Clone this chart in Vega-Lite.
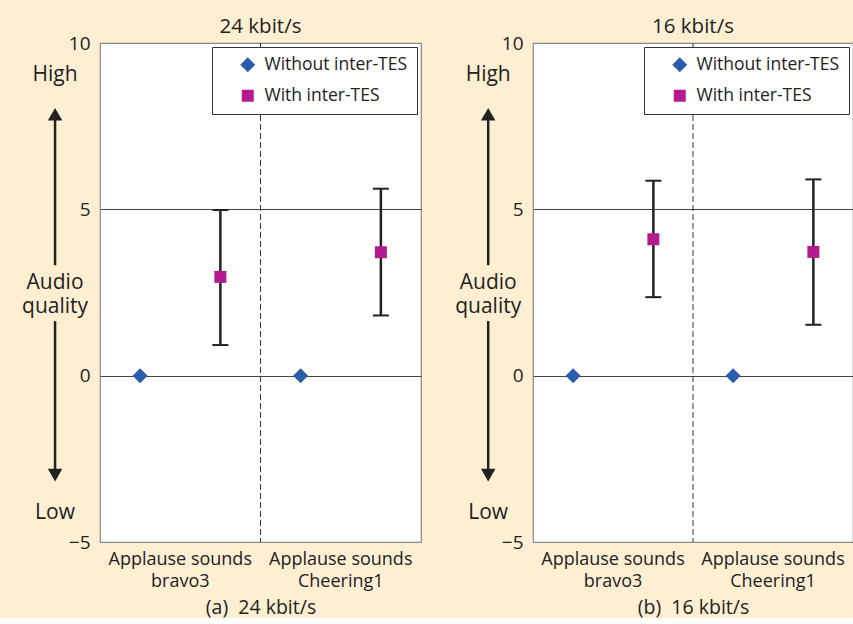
{
  "$schema": "https://vega.github.io/schema/vega-lite/v6.json",
  "background": "#FEEFD3",
  "padding": {"top": 15, "left": 21, "right": 0, "bottom": 0},
  "config": {
    "font": "Open Sans",
    "view": {"stroke": "#888", "fill": "white", "strokeWidth": 1.2},
    "axis": {"labelColor": "#222", "titleColor": "#222", "labelFont": "Open Sans", "titleFont": "Open Sans"},
    "legend": {"labelFont": "Open Sans"},
    "title": {"font": "Open Sans", "fontWeight": "normal", "fontSize": 20.5, "color": "#222", "offset": -3}
  },
  "datasets": {
    "points": [
      {"panel": "a", "sample": "bravo3", "series": "Without inter-TES", "value": 0},
      {"panel": "a", "sample": "Cheering1", "series": "Without inter-TES", "value": 0},
      {"panel": "a", "sample": "bravo3", "series": "With inter-TES", "value": 2.97, "lo": 0.92, "hi": 4.98},
      {"panel": "a", "sample": "Cheering1", "series": "With inter-TES", "value": 3.71, "lo": 1.81, "hi": 5.62},
      {"panel": "b", "sample": "bravo3", "series": "Without inter-TES", "value": 0},
      {"panel": "b", "sample": "Cheering1", "series": "Without inter-TES", "value": 0},
      {"panel": "b", "sample": "bravo3", "series": "With inter-TES", "value": 4.1, "lo": 2.36, "hi": 5.86},
      {"panel": "b", "sample": "Cheering1", "series": "With inter-TES", "value": 3.72, "lo": 1.53, "hi": 5.9}
    ]
  },
  "resolve": {"legend": {"color": "independent", "shape": "independent", "size": "independent"}},
  "spacing": 32,
  "hconcat": [
    {
      "width": 321, "height": 499,
      "title": {"text": "24 kbit/s"},
      "data": {"name": "points"},
      "transform": [{"filter": "datum.panel == 'a'"}],
      "resolve": {"scale": {"x": "independent"}},
      "layer": [
        {
          "layer": [
            {
              "data": {"values": [{}]},
              "mark": {"type": "rule", "strokeDash": [6, 3], "color": "#333", "strokeWidth": 1},
              "encoding": {"x": {"datum": "Cheering1", "type": "nominal", "bandPosition": 0, "scale": {"domain": ["bravo3", "Cheering1"], "paddingInner": 0, "paddingOuter": 0}}}
            },
            {
              "transform": [{"filter": "isValid(datum.lo)"}],
              "mark": {"type": "rule", "color": "#222", "strokeWidth": 2.5},
              "encoding": {
                "x": {"field": "sample", "type": "nominal"},
                "xOffset": {"field": "series", "type": "nominal", "scale": {"domain": ["Without inter-TES", "With inter-TES"], "paddingInner": 0, "paddingOuter": 0}},
                "y": {"field": "lo", "type": "quantitative", "title": null},
                "y2": {"field": "hi"}
              }
            },
            {
              "transform": [{"filter": "isValid(datum.lo)"}],
              "mark": {"type": "tick", "color": "#222", "thickness": 2, "size": 16, "opacity": 1},
              "encoding": {
                "x": {"field": "sample", "type": "nominal"},
                "xOffset": {"field": "series", "type": "nominal"},
                "y": {"field": "lo", "type": "quantitative", "title": null}
              }
            },
            {
              "transform": [{"filter": "isValid(datum.hi)"}],
              "mark": {"type": "tick", "color": "#222", "thickness": 2, "size": 16, "opacity": 1},
              "encoding": {
                "x": {"field": "sample", "type": "nominal"},
                "xOffset": {"field": "series", "type": "nominal"},
                "y": {"field": "hi", "type": "quantitative", "title": null}
              }
            },
            {
              "mark": {"type": "point", "filled": true, "opacity": 1, "strokeWidth": 0},
              "encoding": {
                "x": {"field": "sample", "type": "nominal", "title": "(a)\u00a0 24 kbit/s",
                  "axis": {"labelAngle": 0, "labelAlign": "center", "labelBaseline": "top", "ticks": false, "domain": false, "grid": false, "labelFontSize": 18, "labelPadding": 8, "labelLineHeight": 22, "titleFontSize": 19.5, "titleFontWeight": "normal", "titlePadding": 8,
                    "labelExpr": "datum.value == 'bravo3' ? ['Applause sounds', 'bravo3'] : ['Applause sounds', 'Cheering1']"}},
                "xOffset": {"field": "series", "type": "nominal"},
                "y": {"field": "value", "type": "quantitative", "title": null,
                  "scale": {"domain": [-5, 10], "nice": false, "zero": false},
                  "axis": {"values": [-5, 0, 5, 10], "ticks": false, "domain": false, "labelFontSize": 19, "labelPadding": 10,
                    "gridColor": {"condition": {"test": "datum.value == 0 || datum.value == 5", "value": "#444"}, "value": "#888"}, "gridWidth": 1, "gridOpacity": 1}},
                "color": {"field": "series", "type": "nominal", "scale": {"domain": ["Without inter-TES", "With inter-TES"], "range": ["#2B5DAA", "#B41B8F"]},
                  "legend": {"title": null, "orient": "top-right", "offset": 4, "fillColor": "white", "strokeColor": "#333", "padding": 9, "symbolOffset": 18, "labelOffset": 8, "rowPadding": 12, "labelFontSize": 17.5, "labelColor": "#222"}},
                "shape": {"field": "series", "type": "nominal", "scale": {"domain": ["Without inter-TES", "With inter-TES"], "range": ["diamond", "square"]}},
                "size": {"field": "series", "type": "nominal", "scale": {"domain": ["Without inter-TES", "With inter-TES"], "range": [225, 144]}}
              }
            }
          ]
        },
        {
          "data": {"values": [{}]},
          "encoding": {"x": {"datum": -0.56, "type": "quantitative", "scale": {"domain": [0, 4], "nice": false, "zero": false}, "axis": null}},
          "layer": [
            {"mark": {"type": "rule", "color": "#222", "strokeWidth": 2.5}, "encoding": {"y": {"datum": 7.86, "type": "quantitative"}, "y2": {"datum": 3.32}}},
            {"mark": {"type": "rule", "color": "#222", "strokeWidth": 2.5}, "encoding": {"y": {"datum": 1.64, "type": "quantitative"}, "y2": {"datum": -2.99}}},
            {"mark": {"type": "point", "shape": "triangle-up", "filled": true, "opacity": 1, "color": "#222", "size": 210, "strokeWidth": 0}, "encoding": {"y": {"datum": 7.86, "type": "quantitative"}}},
            {"mark": {"type": "point", "shape": "triangle-down", "filled": true, "opacity": 1, "color": "#222", "size": 210, "strokeWidth": 0}, "encoding": {"y": {"datum": -2.99, "type": "quantitative"}}},
            {"mark": {"type": "text", "text": "High", "fontSize": 21, "color": "#222", "baseline": "alphabetic"}, "encoding": {"y": {"datum": 8.86, "type": "quantitative"}}},
            {"mark": {"type": "text", "text": ["Audio", "quality"], "fontSize": 21, "lineHeight": 24, "color": "#222", "baseline": "alphabetic"}, "encoding": {"y": {"datum": 2.6, "type": "quantitative"}}},
            {"mark": {"type": "text", "text": "Low", "fontSize": 21, "color": "#222", "baseline": "alphabetic"}, "encoding": {"y": {"datum": -4.32, "type": "quantitative"}}}
          ]
        }
      ]
    },
    {
      "width": 320, "height": 499,
      "title": {"text": "16 kbit/s"},
      "data": {"name": "points"},
      "transform": [{"filter": "datum.panel == 'b'"}],
      "resolve": {"scale": {"x": "independent"}},
      "layer": [
        {
          "layer": [
            {
              "data": {"values": [{}]},
              "mark": {"type": "rule", "strokeDash": [6, 3], "color": "#333", "strokeWidth": 1},
              "encoding": {"x": {"datum": "Cheering1", "type": "nominal", "bandPosition": 0, "scale": {"domain": ["bravo3", "Cheering1"], "paddingInner": 0, "paddingOuter": 0}}}
            },
            {
              "transform": [{"filter": "isValid(datum.lo)"}],
              "mark": {"type": "rule", "color": "#222", "strokeWidth": 2.5},
              "encoding": {
                "x": {"field": "sample", "type": "nominal"},
                "xOffset": {"field": "series", "type": "nominal", "scale": {"domain": ["Without inter-TES", "With inter-TES"], "paddingInner": 0, "paddingOuter": 0}},
                "y": {"field": "lo", "type": "quantitative", "title": null},
                "y2": {"field": "hi"}
              }
            },
            {
              "transform": [{"filter": "isValid(datum.lo)"}],
              "mark": {"type": "tick", "color": "#222", "thickness": 2, "size": 16, "opacity": 1},
              "encoding": {
                "x": {"field": "sample", "type": "nominal"},
                "xOffset": {"field": "series", "type": "nominal"},
                "y": {"field": "lo", "type": "quantitative", "title": null}
              }
            },
            {
              "transform": [{"filter": "isValid(datum.hi)"}],
              "mark": {"type": "tick", "color": "#222", "thickness": 2, "size": 16, "opacity": 1},
              "encoding": {
                "x": {"field": "sample", "type": "nominal"},
                "xOffset": {"field": "series", "type": "nominal"},
                "y": {"field": "hi", "type": "quantitative", "title": null}
              }
            },
            {
              "mark": {"type": "point", "filled": true, "opacity": 1, "strokeWidth": 0},
              "encoding": {
                "x": {"field": "sample", "type": "nominal", "title": "(b)\u00a0 16 kbit/s",
                  "axis": {"labelAngle": 0, "labelAlign": "center", "labelBaseline": "top", "ticks": false, "domain": false, "grid": false, "labelFontSize": 18, "labelPadding": 8, "labelLineHeight": 22, "titleFontSize": 19.5, "titleFontWeight": "normal", "titlePadding": 8,
                    "labelExpr": "datum.value == 'bravo3' ? ['Applause sounds', 'bravo3'] : ['Applause sounds', 'Cheering1']"}},
                "xOffset": {"field": "series", "type": "nominal"},
                "y": {"field": "value", "type": "quantitative", "title": null,
                  "scale": {"domain": [-5, 10], "nice": false, "zero": false},
                  "axis": {"values": [-5, 0, 5, 10], "ticks": false, "domain": false, "labelFontSize": 19, "labelPadding": 10,
                    "gridColor": {"condition": {"test": "datum.value == 0 || datum.value == 5", "value": "#444"}, "value": "#888"}, "gridWidth": 1, "gridOpacity": 1}},
                "color": {"field": "series", "type": "nominal", "scale": {"domain": ["Without inter-TES", "With inter-TES"], "range": ["#2B5DAA", "#B41B8F"]},
                  "legend": {"title": null, "orient": "top-right", "offset": 4, "fillColor": "white", "strokeColor": "#333", "padding": 9, "symbolOffset": 18, "labelOffset": 8, "rowPadding": 12, "labelFontSize": 17.5, "labelColor": "#222"}},
                "shape": {"field": "series", "type": "nominal", "scale": {"domain": ["Without inter-TES", "With inter-TES"], "range": ["diamond", "square"]}},
                "size": {"field": "series", "type": "nominal", "scale": {"domain": ["Without inter-TES", "With inter-TES"], "range": [225, 144]}}
              }
            }
          ]
        },
        {
          "data": {"values": [{}]},
          "encoding": {"x": {"datum": -0.56, "type": "quantitative", "scale": {"domain": [0, 4], "nice": false, "zero": false}, "axis": null}},
          "layer": [
            {"mark": {"type": "rule", "color": "#222", "strokeWidth": 2.5}, "encoding": {"y": {"datum": 7.86, "type": "quantitative"}, "y2": {"datum": 3.32}}},
            {"mark": {"type": "rule", "color": "#222", "strokeWidth": 2.5}, "encoding": {"y": {"datum": 1.64, "type": "quantitative"}, "y2": {"datum": -2.99}}},
            {"mark": {"type": "point", "shape": "triangle-up", "filled": true, "opacity": 1, "color": "#222", "size": 210, "strokeWidth": 0}, "encoding": {"y": {"datum": 7.86, "type": "quantitative"}}},
            {"mark": {"type": "point", "shape": "triangle-down", "filled": true, "opacity": 1, "color": "#222", "size": 210, "strokeWidth": 0}, "encoding": {"y": {"datum": -2.99, "type": "quantitative"}}},
            {"mark": {"type": "text", "text": "High", "fontSize": 21, "color": "#222", "baseline": "alphabetic"}, "encoding": {"y": {"datum": 8.86, "type": "quantitative"}}},
            {"mark": {"type": "text", "text": ["Audio", "quality"], "fontSize": 21, "lineHeight": 24, "color": "#222", "baseline": "alphabetic"}, "encoding": {"y": {"datum": 2.6, "type": "quantitative"}}},
            {"mark": {"type": "text", "text": "Low", "fontSize": 21, "color": "#222", "baseline": "alphabetic"}, "encoding": {"y": {"datum": -4.32, "type": "quantitative"}}}
          ]
        }
      ]
    }
  ]
}
